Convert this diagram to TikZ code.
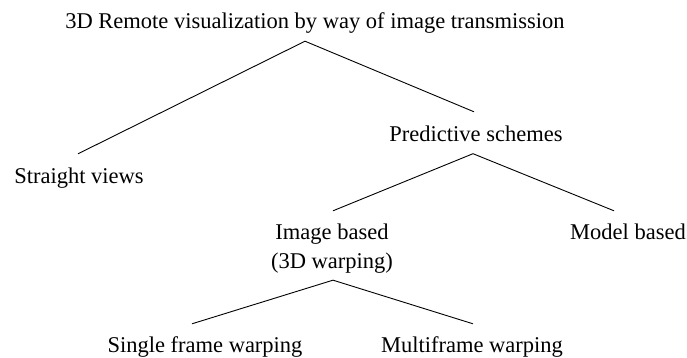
\documentclass[tikz,border=0pt]{standalone}
\usepackage{fontspec}
\setmainfont{Liberation Serif}
\begin{document}
\begin{tikzpicture}[x=1pt,y=-1pt,
  every node/.style={font=\fontsize{22.5}{29}\selectfont, inner sep=0pt},
  lbl/.style={text height=16pt, text depth=5pt, anchor=base},
  link/.style={draw=black, line width=0.9pt}]
\useasboundingbox (0,0) rectangle (687,358);
\node[lbl] (root) at (315,28.5) {3D Remote visualization by way of image transmission};
\node[lbl] (sv) at (79,183.5) {Straight views};
\node[lbl] (pred) at (476,142) {Predictive schemes};
\node[align=center, anchor=north] (ib) at (332,223.8) {Image based\\(3D warping)};
\node[lbl] (mb) at (628,239.5) {Model based};
\node[lbl] (sf) at (205,352) {Single frame warping};
\node[lbl] (mf) at (472,352) {Multiframe warping};
\draw[link] ([xshift=-1pt,yshift=13.5pt]sv.north) -- ([xshift=-10pt,yshift=-7.5pt]root.south) -- ([xshift=-2pt,yshift=14pt]pred.north);
\draw[link] ([xshift=1pt,yshift=13pt]ib.north) -- ([xshift=-3pt,yshift=-6.5pt]pred.south) -- ([xshift=-14pt,yshift=12.5pt]mb.north);
\draw[link] ([xshift=-13pt,yshift=12pt]sf.north) -- ([xshift=1pt,yshift=-6.5pt]ib.south) -- ([xshift=1pt,yshift=12pt]mf.north);
\end{tikzpicture}
\end{document}
